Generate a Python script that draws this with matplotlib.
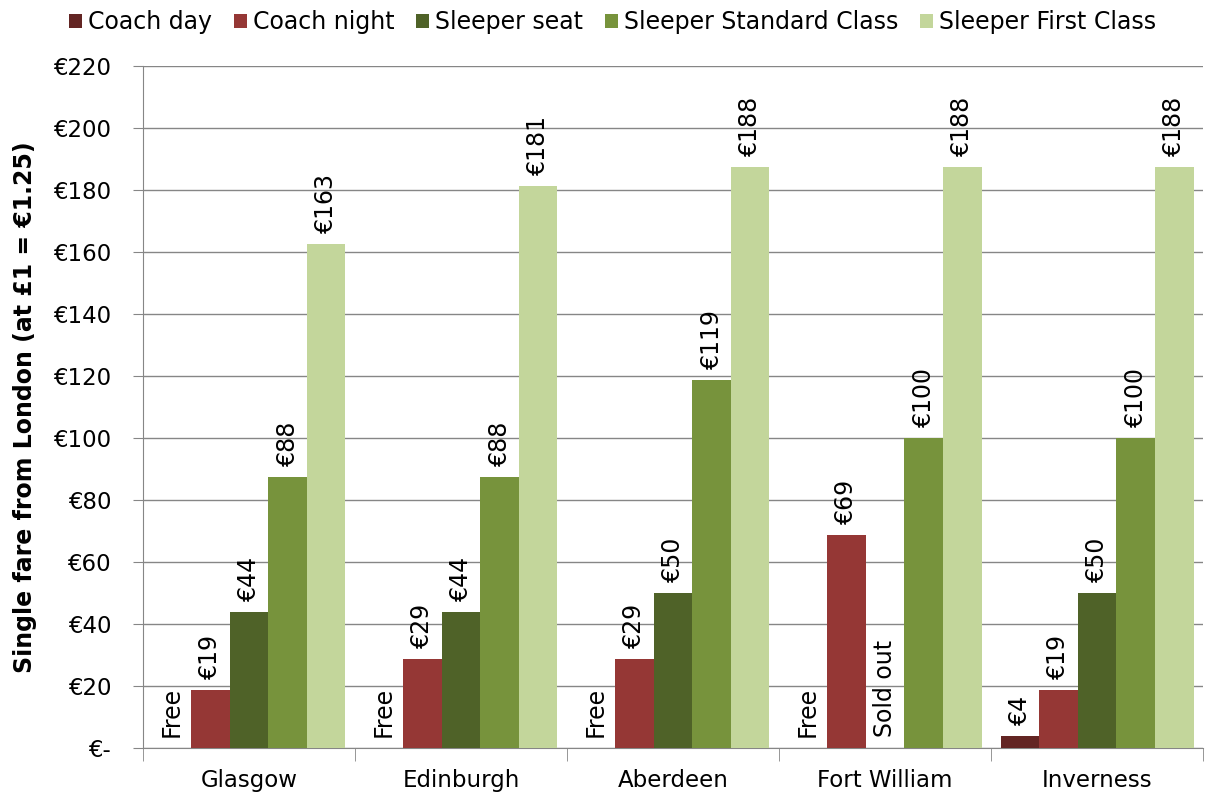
import matplotlib
matplotlib.use("Agg")
import matplotlib.pyplot as plt
import numpy as np
from matplotlib.ticker import FuncFormatter

plt.rcParams['font.family'] = ['DejaVu Sans']

categories = ["Glasgow", "Edinburgh", "Aberdeen", "Fort William", "Inverness"]
series_names = ["Coach day", "Coach night", "Sleeper seat", "Sleeper Standard Class", "Sleeper First Class"]
coach_day = [0, 0, 0, 0, 3.75]
coach_night = [18.75, 28.75, 28.75, 68.75, 18.75]
sleeper_seat = [43.75, 43.75, 50, 0, 50]
sleeper_standard = [87.5, 87.5, 118.75, 100, 100]
sleeper_first = [162.5, 181.25, 187.5, 187.5, 187.5]
labels_coach_day = ["Free", "Free", "Free", "Free", "€4"]
labels_coach_night = ["€19", "€29", "€29", "€69", "€19"]
labels_sleeper_seat = ["€44", "€44", "€50", "Sold out", "€50"]
labels_sleeper_standard = ["€88", "€88", "€119", "€100", "€100"]
labels_sleeper_first = ["€163", "€181", "€188", "€188", "€188"]
y_ticks = list(range(0, 221, 20))

colors = ["#632523", "#953735", "#4F6228", "#77933C", "#C3D69B"]
series = [coach_day, coach_night, sleeper_seat, sleeper_standard, sleeper_first]
labels = [labels_coach_day, labels_coach_night, labels_sleeper_seat,
          labels_sleeper_standard, labels_sleeper_first]

FS = 16.5
fig = plt.figure(figsize=(12.13, 7.94), dpi=100)
ax = fig.add_axes([0.1179, 0.0579, 0.8739, 0.859])

x = np.arange(len(categories))
w = 0.182
for i, (vals, col, name, labs) in enumerate(zip(series, colors, series_names, labels)):
    pos = x + (i - 2) * w
    ax.bar(pos, vals, width=w, color=col, label=name, zorder=3)
    for p, v, t in zip(pos, vals, labs):
        ax.annotate(t, (p, v), xytext=(0, 8), textcoords='offset points',
                    rotation=90, ha='center', va='bottom',
                    fontsize=17, color='black', zorder=4)

ax.set_xlim(-0.5, len(categories) - 0.5)
ax.set_ylim(0, 220)
ax.set_yticks(y_ticks)
ax.yaxis.set_major_formatter(FuncFormatter(lambda v, p: "€-" if v == 0 else f"€{int(v)}"))
ax.set_xticks(x)
ax.set_xticklabels(categories, fontsize=FS)
ax.set_xticks(np.arange(-0.5, len(categories)), minor=True)
ax.tick_params(axis='x', which='major', length=0, pad=15)
ax.tick_params(axis='x', which='minor', length=9, color='#868686')
ax.tick_params(axis='y', labelsize=FS, length=7, color='#868686', pad=16)
ax.grid(axis='y', color='#868686', linewidth=1, zorder=0)
for s in ['top', 'right']:
    ax.spines[s].set_visible(False)
for s in ['left', 'bottom']:
    ax.spines[s].set_color('#868686')
ax.set_ylabel("Single fare from London (at £1 = €1.25)", fontsize=17,
              fontweight='bold')
ax.yaxis.set_label_coords(-0.100, 0.5)

fig.legend(loc='center', bbox_to_anchor=(0.505, 0.972), ncol=5, frameon=False,
           fontsize=17, handlelength=0.55, handleheight=0.55, handletextpad=0.25,
           columnspacing=0.93, borderpad=0)

fig.savefig("out.png", dpi=100)
